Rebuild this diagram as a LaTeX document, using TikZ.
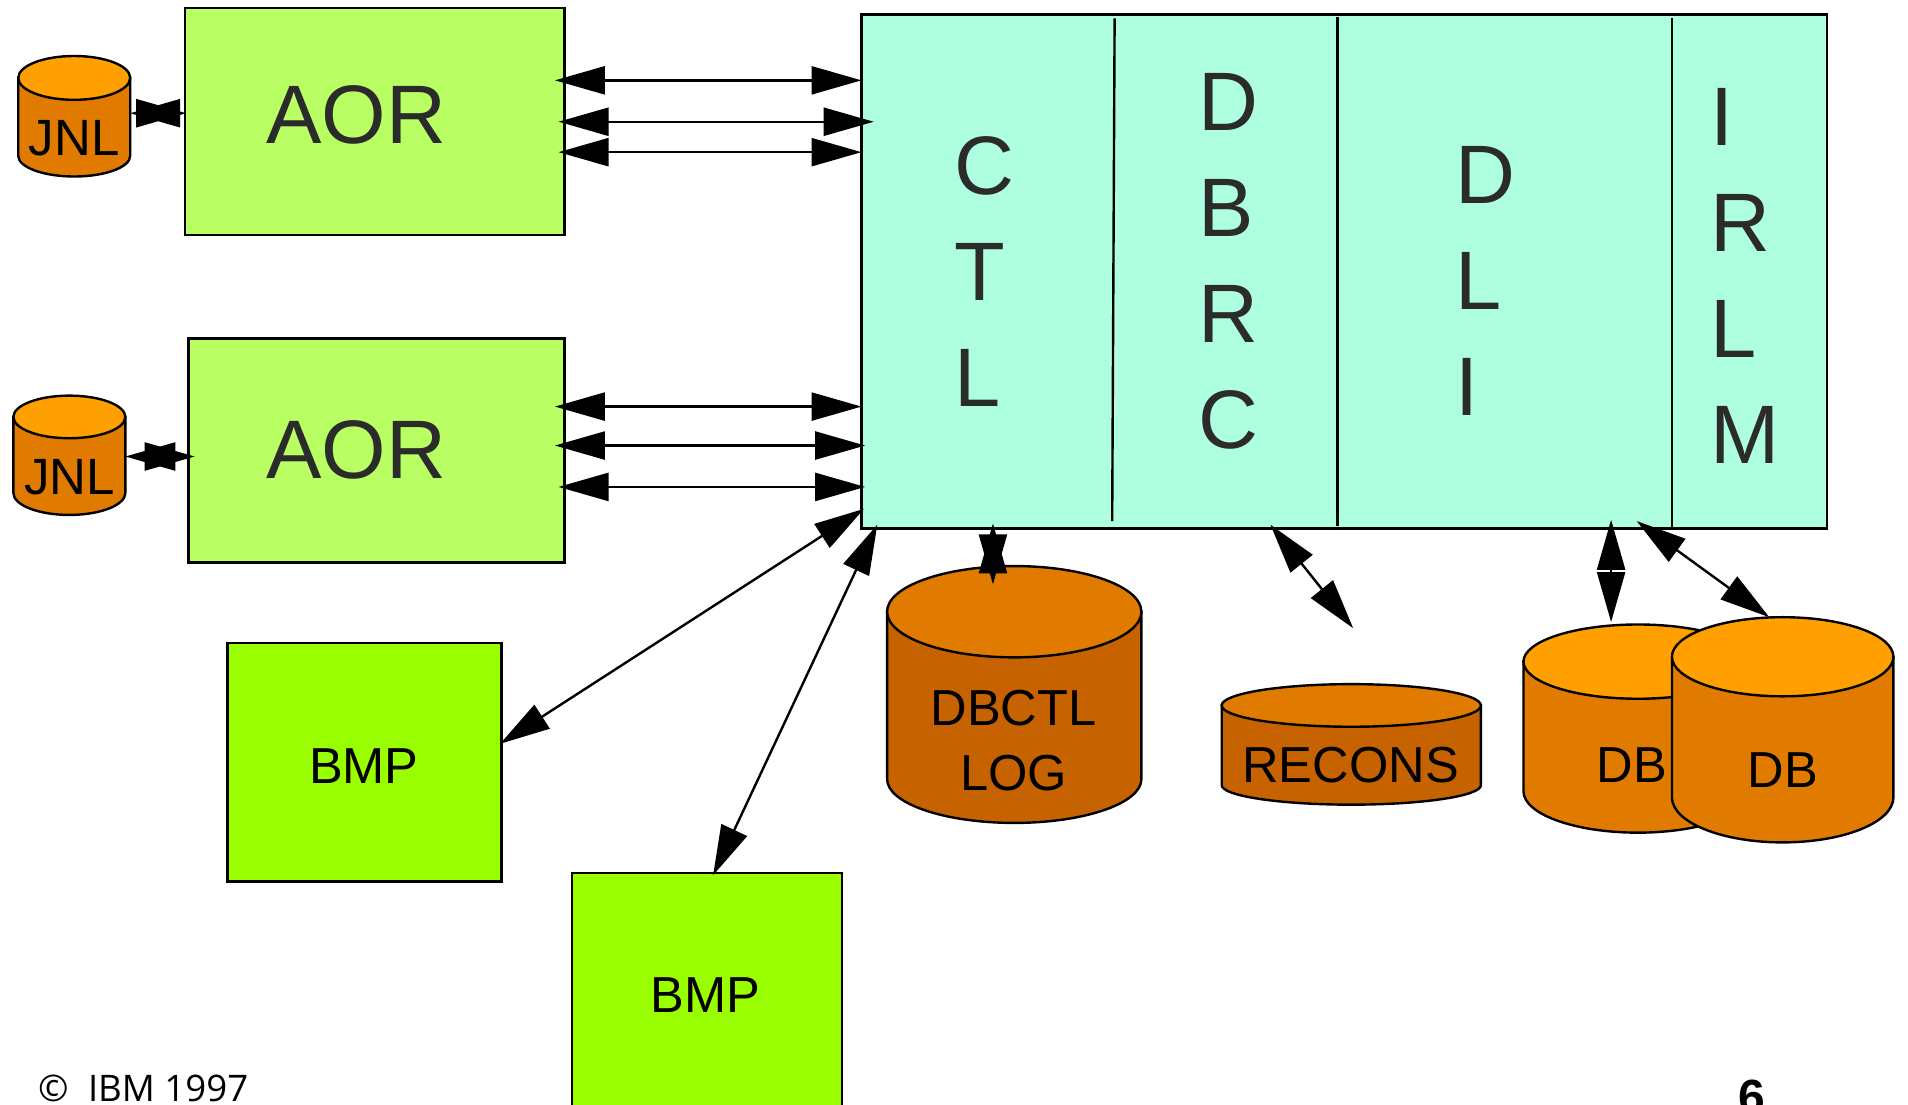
\documentclass[tikz,border=0pt]{standalone}
\usepackage{fontspec}
\setmainfont{Liberation Sans}
\newfontfamily\foot{Open Sans}
\usetikzlibrary{arrows.meta}
\definecolor{aorc}{HTML}{B9FF63}
\definecolor{bmpc}{HTML}{99FF00}
\definecolor{mainc}{HTML}{AEFFDF}
\definecolor{orA}{HTML}{FFA000}
\definecolor{orB}{HTML}{E07B00}
\definecolor{orC}{HTML}{C66300}
\definecolor{ink}{HTML}{2B2B2B}
\tikzset{
  boxn/.style={draw=black,line width=1.2pt,rectangle,inner sep=0pt,outer sep=0pt,anchor=north west,text=ink},
  bigtext/.style={font=\fontsize{41.5}{53}\selectfont,text=ink,inner sep=0pt},
  stack/.style={bigtext,align=left,anchor=west},
  cyltext/.style={font=\fontsize{25.3}{30}\selectfont,text=black,inner sep=0pt,anchor=base},
  dualarrow/.style={line width=1.2pt,{Triangle[length=25pt,width=14pt]}-{Triangle[length=25pt,width=14pt]}},
  divider/.style={line width=1.2pt}
}
% left right top topEllipseBottom sideEnd bottom topColour bodyColour
\newcommand{\cyldraw}[8]{%
  \pgfmathsetmacro{\cxx}{(#1+#2)/2}%
  \pgfmathsetmacro{\rxx}{(#2-#1)/2}%
  \pgfmathsetmacro{\cyy}{(#3+#4)/2}%
  \pgfmathsetmacro{\ryy}{(#4-#3)/2}%
  \pgfmathsetmacro{\kx}{0.5523*\rxx}%
  \pgfmathsetmacro{\kb}{0.5523*(#6-#5)}%
  \draw[line width=1.2pt,fill=#8] (#1,\cyy) -- (#1,#5)
    .. controls (#1,#5+\kb) and (\cxx-\kx,#6) .. (\cxx,#6)
    .. controls (\cxx+\kx,#6) and (#2,#5+\kb) .. (#2,#5) -- (#2,\cyy) -- cycle;
  \draw[line width=1.2pt,fill=#7] (\cxx,\cyy) ellipse [x radius=\rxx, y radius=\ryy];
}
\begin{document}
\begin{tikzpicture}[x=0.60842pt,y=-0.60866pt]
\useasboundingbox (0,0) rectangle (1568,907);
\clip (0,0) rectangle (1568,907);
\fill[white] (0,0) rectangle (1568,907);

% main box and its partitions
\node[boxn,fill=mainc,minimum width=482.8pt,minimum height=256.9pt] (main) at (708,12) {};
\coordinate (d1t) at (916,15); \coordinate (d1b) at (914,428);
\coordinate (d2t) at (1099,14); \coordinate (d2b) at (1099,432);
\coordinate (d3t) at (1374,15); \coordinate (d3b) at (1374,434);
\draw[divider] (d1t) -- (d1b);
\draw[divider] (d2t) -- (d2b);
\draw[divider] (d3t) -- (d3b);
\node[stack] (ctl) at (784,223) {C\\T\\L};
\node[stack] (dbrc) at (985,215) {D\\B\\R\\C};
\node[stack] (dli) at (1196,231) {D\\L\\I};
\node[stack] (irlm) at (1405,227) {I\\R\\L\\M};

% application regions
\node[boxn,fill=aorc,minimum width=189.8pt,minimum height=113.4pt] (aorA) at (152,6.7) {};
\node[boxn,fill=aorc,minimum width=188pt,minimum height=112pt] (aorB) at (155,278) {};
\node[bigtext,anchor=base] (aorAt) at (293,118) {AOR};
\node[bigtext,anchor=base] (aorBt) at (293,393) {AOR};

% batch programs
\node[boxn,fill=bmpc,minimum width=136.9pt,minimum height=119.3pt,text=black] (bmpA) at (187,528) {};
\node[boxn,fill=bmpc,minimum width=135.1pt,minimum height=121.7pt,text=black] (bmpB) at (470,717) {};
\node[cyltext] (bmpAt) at (299,644) {BMP};
\node[cyltext] (bmpBt) at (580,832) {BMP};

% cylinders
\cyldraw{15}{107}{46}{82}{128}{145}{orA}{orB}
\node[cyltext,font=\fontsize{25.5}{30}\selectfont] (jnlA) at (61,128) {JNL};
\cyldraw{11}{103}{325}{360}{405}{423}{orA}{orB}
\node[cyltext,font=\fontsize{25.5}{30}\selectfont] (jnlB) at (57,406) {JNL};
\cyldraw{729}{938}{465}{540}{640}{676}{orB}{orC}
\node[cyltext] (logA) at (833,596) {DBCTL};
\node[cyltext] (logB) at (833,649) {LOG};
\cyldraw{1004}{1217}{562}{597}{645}{661}{orB}{orC}
\node[cyltext] (recons) at (1110,643) {RECONS};
\cyldraw{1252}{1440}{513}{574}{650}{684}{orA}{orB}
\node[cyltext] (dbA) at (1341,643) {DB};
\cyldraw{1374}{1556}{507}{572}{655}{692}{orA}{orB}
\node[cyltext] (dbB) at (1465,647) {DB};

% connector end points
\coordinate (a1l) at (456,66);  \coordinate (a1r) at (708,66);
\coordinate (a2l) at (459,100); \coordinate (a2r) at (718,100);
\coordinate (a3l) at (459,125); \coordinate (a3r) at (708,125);
\coordinate (b1l) at (456,334); \coordinate (b1r) at (708,334);
\coordinate (b2l) at (456,366); \coordinate (b2r) at (711,366);
\coordinate (b3l) at (459,400); \coordinate (b3r) at (711,400);
\coordinate (ja1) at (107,93);  \coordinate (ja2) at (153,93);
\coordinate (jb1) at (103,375); \coordinate (jb2) at (160,375);
\coordinate (ba1) at (710,418); \coordinate (ba2) at (411,611);
\coordinate (bb1) at (721,431); \coordinate (bb2) at (586,719);
\coordinate (l1) at (816,430);  \coordinate (l2) at (816,480);
\coordinate (r1) at (1044,431); \coordinate (r2) at (1112,516);
\coordinate (da1) at (1324,427); \coordinate (da2) at (1324,511);
\coordinate (db1) at (1345,428); \coordinate (db2) at (1454,507);

\foreach \p/\q in {a1l/a1r,a2l/a2r,a3l/a3r,b1l/b1r,b2l/b2r,b3l/b3r,ja1/ja2,jb1/jb2,ba1/ba2,bb1/bb2,l1/l2,r1/r2,da1/da2,db1/db2}
  \draw[dualarrow] (\p) -- (\q);

% footer
\node[inner sep=0pt,anchor=base west,font=\foot\fontsize{18.3}{20}\selectfont,text=black] (copy) at (31,905) {©};
\node[inner sep=0pt,anchor=base west,font=\foot\fontsize{18.3}{20}\selectfont,text=black] (ibm) at (72,905) {IBM 1997};
\node[inner sep=0pt,anchor=base,font=\bfseries\fontsize{24}{28}\selectfont,text=black] (page) at (1440,915) {6};
\end{tikzpicture}
\end{document}
